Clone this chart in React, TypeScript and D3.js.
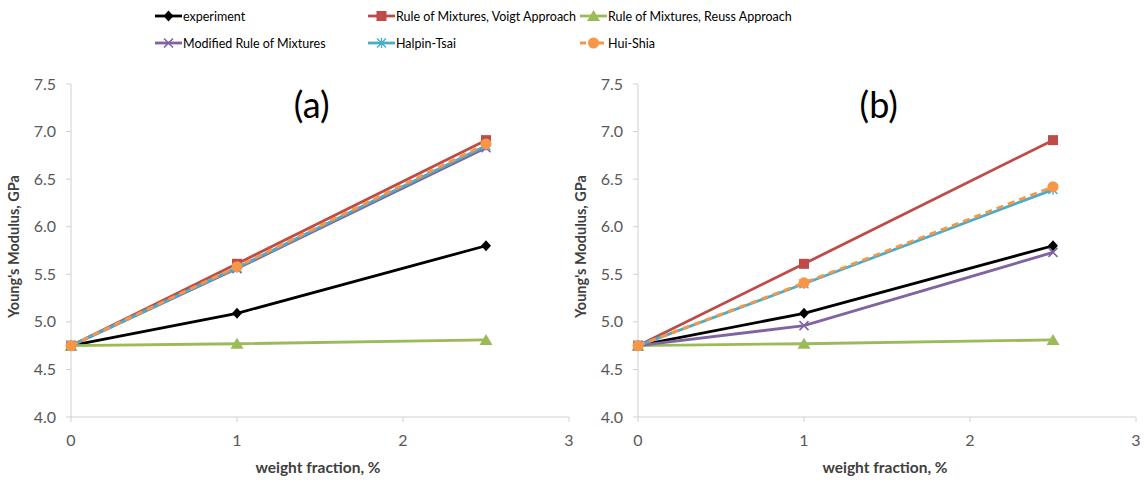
import React from "react";
import * as d3 from "d3";

const xValues = [0, 1, 2.5];
const seriesNames = [
  "experiment",
  "Rule of Mixtures, Voigt Approach",
  "Rule of Mixtures, Reuss Approach",
  "Modified Rule of Mixtures",
  "Halpin-Tsai",
  "Hui-Shia",
];
const panelA = [
  [4.75, 5.09, 5.8],
  [4.75, 5.61, 6.91],
  [4.75, 4.77, 4.81],
  [4.75, 5.56, 6.83],
  [4.75, 5.57, 6.85],
  [4.75, 5.58, 6.87],
];
const panelB = [
  [4.75, 5.09, 5.8],
  [4.75, 5.61, 6.91],
  [4.75, 4.77, 4.81],
  [4.75, 4.96, 5.73],
  [4.75, 5.4, 6.39],
  [4.75, 5.41, 6.42],
];
const yTicks = [4.0, 4.5, 5.0, 5.5, 6.0, 6.5, 7.0, 7.5];
const xTicks = [0, 1, 2, 3];
const panelTitles = ["(a)", "(b)"];

const colors = ["#000000", "#be4b48", "#9bbb59", "#8064a2", "#4bacc6", "#f79646"];
const markers = ["diamond", "square", "triangle", "x", "star", "circle"];
const FONT = "Lato, 'Open Sans', sans-serif";

function Marker({ type, x, y, color }: { type: string; x: number; y: number; color: string }) {
  switch (type) {
    case "diamond":
      return <path d={`M${x},${y - 5.5}L${x + 5},${y}L${x},${y + 5.5}L${x - 5},${y}Z`} fill={color} />;
    case "square":
      return <rect x={x - 5} y={y - 5} width={10} height={10} fill={color} />;
    case "triangle":
      return <path d={`M${x},${y - 6}L${x + 6.5},${y + 5}L${x - 6.5},${y + 5}Z`} fill={color} />;
    case "x":
      return (
        <path d={`M${x - 4.5},${y - 4.5}L${x + 4.5},${y + 4.5}M${x - 4.5},${y + 4.5}L${x + 4.5},${y - 4.5}`} stroke={color} strokeWidth={1.6} />
      );
    case "star":
      return (
        <path
          d={`M${x - 4.5},${y - 4.5}L${x + 4.5},${y + 4.5}M${x - 4.5},${y + 4.5}L${x + 4.5},${y - 4.5}M${x},${y - 5}L${x},${y + 5}`}
          stroke={color}
          strokeWidth={1.4}
        />
      );
    case "circle":
      return <circle cx={x} cy={y} r={5.5} fill={color} />;
  }
  return null;
}

function Panel({ left, data, title }: { left: number; data: number[][]; title: string }) {
  const x = d3.scaleLinear().domain([0, 3]).range([left, left + 498]);
  const y = d3.scaleLinear().domain([4, 7.5]).range([417, 84]);
  const line = d3
    .line<number>()
    .x((_, i) => x(xValues[i]))
    .y((d) => y(d));
  const axisColor = "#d0d0d0";
  return (
    <g>
      <line x1={x(0)} x2={x(0)} y1={y(7.5)} y2={y(4)} stroke={axisColor} strokeWidth={1} />
      <line x1={x(0)} x2={x(3)} y1={y(4)} y2={y(4)} stroke={axisColor} strokeWidth={1} />
      {yTicks.map((t) => (
        <g key={t}>
          <line x1={x(0) - 5} x2={x(0)} y1={y(t)} y2={y(t)} stroke={axisColor} />
          <text x={x(0) - 15} y={y(t)} dy="0.35em" textAnchor="end" fontSize={16} fill="#595959" fontFamily={FONT}>
            {t.toFixed(1)}
          </text>
        </g>
      ))}
      {xTicks.map((t) => (
        <g key={t}>
          <line x1={x(t)} x2={x(t)} y1={y(4)} y2={y(4) + 5} stroke={axisColor} />
          <text x={x(t)} y={y(4) + 29} textAnchor="middle" fontSize={16} fill="#595959" fontFamily={FONT}>
            {t}
          </text>
        </g>
      ))}
      <text x={(x(0) + x(3)) / 2 - 2} y={473} textAnchor="middle" fontSize={15.5} fontWeight="bold" fill="#404040" fontFamily={FONT}>
        weight fraction, %
      </text>
      <text
        transform={`translate(${x(0) - 52},${(y(4) + y(7.5)) / 2 - 4}) rotate(-90)`}
        textAnchor="middle"
        fontSize={14.5}
        fontWeight="bold"
        fill="#404040"
        fontFamily={FONT}
      >
        Young's Modulus, GPa
      </text>
      <text x={x(1.45)} y={118} textAnchor="middle" fontSize={36} fill="#000" fontFamily={FONT}>
        {title}
      </text>
      {data.map((s, i) => (
        <g key={i}>
          <path
            d={line(s) || ""}
            fill="none"
            stroke={colors[i]}
            strokeWidth={2.8}
            strokeDasharray={i === 5 ? "7,5" : undefined}
          />
          {s.map((v, j) => (
            <Marker key={j} type={markers[i]} x={x(xValues[j])} y={y(v)} color={colors[i]} />
          ))}
        </g>
      ))}
    </g>
  );
}

export default function App() {
  const legendX = [155, 368, 580];
  const legendY = [16, 43];
  return (
    <svg width={1147} height={484} style={{ position: "absolute", left: 0, top: 0, background: "#fff" }}>
      <rect width={1147} height={484} fill="#fff" />
      {seriesNames.map((name, i) => {
        const lx = legendX[i % 3];
        const ly = legendY[Math.floor(i / 3)];
        return (
          <g key={name}>
            <line x1={lx} x2={lx + 27} y1={ly} y2={ly} stroke={colors[i]} strokeWidth={2.8} strokeDasharray={i === 5 ? "6,3" : undefined} />
            <Marker type={markers[i]} x={lx + 13.5} y={ly} color={colors[i]} />
            <text x={lx + 28} y={ly} dy="0.36em" fontSize={12.5} fill="#000" fontFamily={FONT}>
              {name}
            </text>
          </g>
        );
      })}
      <Panel left={71} data={panelA} title={panelTitles[0]} />
      <Panel left={638} data={panelB} title={panelTitles[1]} />
    </svg>
  );
}
